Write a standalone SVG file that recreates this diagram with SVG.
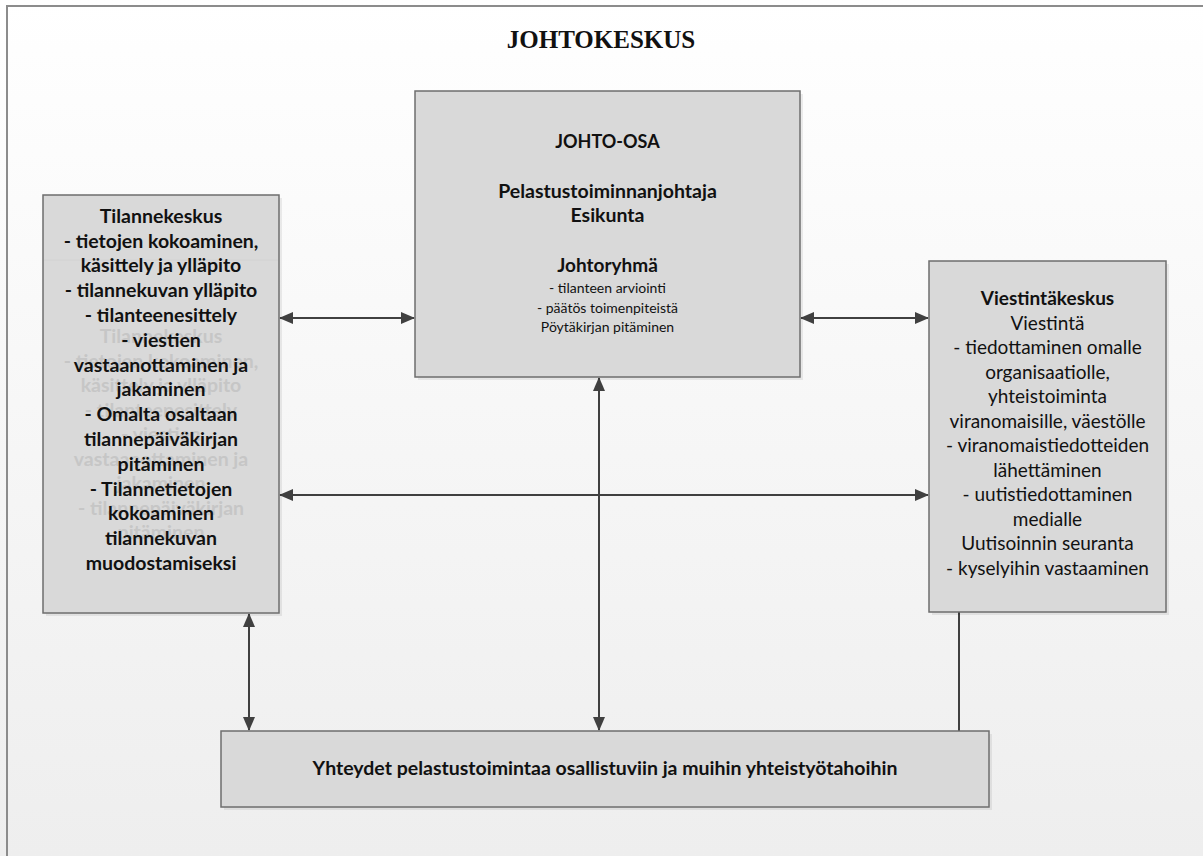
<svg xmlns="http://www.w3.org/2000/svg" width="1203" height="856" viewBox="0 0 1203 856">
<defs>
<linearGradient id="bg" x1="0" y1="0" x2="0" y2="1">
<stop offset="0" stop-color="#ffffff"/>
<stop offset="1" stop-color="#eeeeee"/>
</linearGradient>
<marker id="ah" viewBox="0 0 14 12" refX="13" refY="6" markerWidth="14" markerHeight="12" markerUnits="userSpaceOnUse" orient="auto-start-reverse">
<path d="M0,0 L14,6 L0,12 Z" fill="#404040"/>
</marker>
</defs>
<style>
.box{fill:#d9d9d9;stroke:#6e6e6e;stroke-width:1.5}
.sh{fill:#000;opacity:0.07}
.c{fill:none;stroke:#404040;stroke-width:2}
text{font-family:Lato,"Liberation Sans",sans-serif;fill:#111;text-anchor:middle}
.b{font-weight:bold}
.ghost{fill:#c6c6c6;font-weight:bold}
</style>
<rect x="0" y="0" width="1203" height="856" fill="url(#bg)"/>
<rect x="7" y="6" width="1210" height="870" fill="none" stroke="#8c8c8c" stroke-width="2"/>
<text x="601" y="48" style="font-family:'Liberation Serif',serif;font-weight:bold;font-size:25px">JOHTOKESKUS</text>

<g id="connectors">
<line class="c" x1="280" y1="318" x2="414" y2="318" marker-start="url(#ah)" marker-end="url(#ah)"/>
<line class="c" x1="801" y1="318" x2="928" y2="318" marker-start="url(#ah)" marker-end="url(#ah)"/>
<line class="c" x1="280" y1="495" x2="928" y2="495" marker-start="url(#ah)" marker-end="url(#ah)"/>
<line class="c" x1="599" y1="378" x2="599" y2="730" marker-start="url(#ah)" marker-end="url(#ah)"/>
<line class="c" x1="249" y1="614" x2="249" y2="730" marker-start="url(#ah)" marker-end="url(#ah)"/>
<line class="c" x1="959" y1="612" x2="959" y2="731"/>
</g>

<g id="johto-osa">
<rect class="sh" x="418" y="94" width="385" height="286"/>
<rect class="box" x="415" y="91" width="385" height="286"/>
<text class="b" x="607.5" y="148" font-size="18">JOHTO-OSA</text>
<text class="b" x="607.5" y="198" font-size="19.5">Pelastustoiminnanjohtaja</text>
<text class="b" x="607.5" y="222" font-size="19.5">Esikunta</text>
<text class="b" x="607.5" y="272" font-size="19">Johtoryhmä</text>
<text x="607.5" y="293" font-size="14">- tilanteen arviointi</text>
<text x="607.5" y="313" font-size="14">- päätös toimenpiteistä</text>
<text x="607.5" y="332" font-size="14">Pöytäkirjan pitäminen</text>
</g>

<g id="tilannekeskus">
<rect class="sh" x="46" y="198" width="236" height="418"/>
<rect class="box" x="43" y="195" width="236" height="418"/>
<line x1="44" y1="260" x2="278" y2="260" stroke="#d2d2d2" stroke-width="1"/>
<g font-size="19.5">
<text class="ghost" x="161" y="343">Tilannekeskus</text>
<text class="ghost" x="161" y="368">- tietojen kokoaminen,</text>
<text class="ghost" x="161" y="392">käsittely ja ylläpito</text>
<text class="ghost" x="161" y="417">- tilanteenesittely</text>
<text class="ghost" x="161" y="441">- viestien</text>
<text class="ghost" x="161" y="466">vastaanottaminen ja</text>
<text class="ghost" x="161" y="490">jakaminen</text>
<text class="ghost" x="161" y="515">- tilannepäiväkirjan</text>
<text class="ghost" x="161" y="539">pitäminen</text>
<text class="b" x="161" y="223">Tilannekeskus</text>
<text class="b" x="161" y="248">- tietojen kokoaminen,</text>
<text class="b" x="161" y="272">käsittely ja ylläpito</text>
<text class="b" x="161" y="297">- tilannekuvan ylläpito</text>
<text class="b" x="161" y="322">- tilanteenesittely</text>
<text class="b" x="161" y="347">- viestien</text>
<text class="b" x="161" y="372">vastaanottaminen ja</text>
<text class="b" x="161" y="396">jakaminen</text>
<text class="b" x="161" y="421">- Omalta osaltaan</text>
<text class="b" x="161" y="446">tilannepäiväkirjan</text>
<text class="b" x="161" y="471">pitäminen</text>
<text class="b" x="161" y="496">- Tilannetietojen</text>
<text class="b" x="161" y="520">kokoaminen</text>
<text class="b" x="161" y="545">tilannekuvan</text>
<text class="b" x="161" y="570">muodostamiseksi</text>
</g>
</g>

<g id="viestintakeskus">
<rect class="sh" x="932" y="264" width="237" height="351"/>
<rect class="box" x="929" y="261" width="237" height="351"/>
<g font-size="19">
<text class="b" x="1047.5" y="305">Viestintäkeskus</text>
<text x="1047.5" y="330">Viestintä</text>
<text x="1047.5" y="354">- tiedottaminen omalle</text>
<text x="1047.5" y="379">organisaatiolle,</text>
<text x="1047.5" y="403">yhteistoiminta</text>
<text x="1047.5" y="428">viranomaisille, väestölle</text>
<text x="1047.5" y="452">- viranomaistiedotteiden</text>
<text x="1047.5" y="477">lähettäminen</text>
<text x="1047.5" y="501">- uutistiedottaminen</text>
<text x="1047.5" y="526">medialle</text>
<text x="1047.5" y="550">Uutisoinnin seuranta</text>
<text x="1047.5" y="575">- kyselyihin vastaaminen</text>
</g>
</g>

<g id="yhteydet">
<rect class="sh" x="224" y="734" width="768" height="76"/>
<rect class="box" x="221" y="731" width="768" height="76"/>
<text class="b" x="605" y="775" font-size="19.5">Yhteydet pelastustoimintaa osallistuviin ja muihin yhteistyötahoihin</text>
</g>
</svg>
